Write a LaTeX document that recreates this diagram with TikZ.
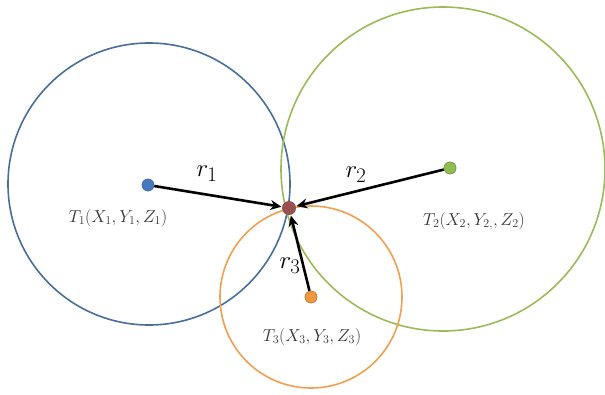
\documentclass[tikz,border=0pt]{standalone}
\usetikzlibrary{arrows.meta,calc}
\usepackage{amsmath}
\definecolor{circblue}{RGB}{74,110,155}
\definecolor{circgreen}{RGB}{155,187,89}
\definecolor{circorange}{RGB}{240,160,80}
\definecolor{dotblue}{RGB}{70,120,190}
\definecolor{dotgreen}{RGB}{140,190,80}
\definecolor{dotorange}{RGB}{240,150,60}
\definecolor{dotred}{RGB}{150,80,80}
\tikzset{
    sphere/.style={
        line width=1.6pt
    },
    station/.style={
        circle,
        fill,
        inner sep=0pt,
        minimum size=12pt
    },
    range arrow/.style={
        line width=2.6pt,
        black,
        -{Stealth[length=11pt,width=10pt]},
        shorten >=0.5pt
    },
    range label/.style={
        font=\fontsize{28}{30}\selectfont
    },
    station label/.style={
        text=black!80,
        font=\fontsize{16.5}{18}\selectfont
    }
}

\begin{document}
\begin{tikzpicture}[x=1pt,y=-1pt]
                \useasboundingbox (0,0) rectangle (605,394);
                \coordinate (C1) at (149,184);
                \coordinate (C2) at (443,169);
                \coordinate (C3) at (311,297);
                % spheres
                \draw [sphere, circblue] (C1) circle [radius=141];
                \draw [sphere, circgreen] (C2) circle [radius=162];
                \draw [sphere, circorange] (C3) circle [radius=91];
                % stations and target
                \node [station, dotblue, draw=circblue, line width=0.8pt] (t1) at (148,185) {};
                \node [station, dotgreen, draw=circgreen!80!black, line width=0.8pt] (t2) at (450,168) {};
                \node [station, dotorange, draw=circorange!80!black, line width=0.8pt] (t3) at (311,297) {};
                \node [station, dotred, minimum size=14pt] (p) at (289,208) {};
                % ranges
                \draw [range arrow] (t1) -- (p);
                \draw [range arrow] (t2) -- (p);
                \draw [range arrow] (t3) -- (p);
                \node [range label] (r1) at (207,174) {$r_1$};
                \node [range label] (r2) at (356,175) {$r_2$};
                \node [range label] (r3) at (290,266) {$r_3$};
                \node [station label] (l1) at (118,218) {$T_1(X_1,Y_1,Z_1)$};
                \node [station label] (l2) at (474,221) {$T_2(X_2,Y_{2,},Z_2)$};
                \node [station label] (l3) at (312,337) {$T_3(X_3,Y_3,Z_3)$};
\end{tikzpicture}
\end{document}
